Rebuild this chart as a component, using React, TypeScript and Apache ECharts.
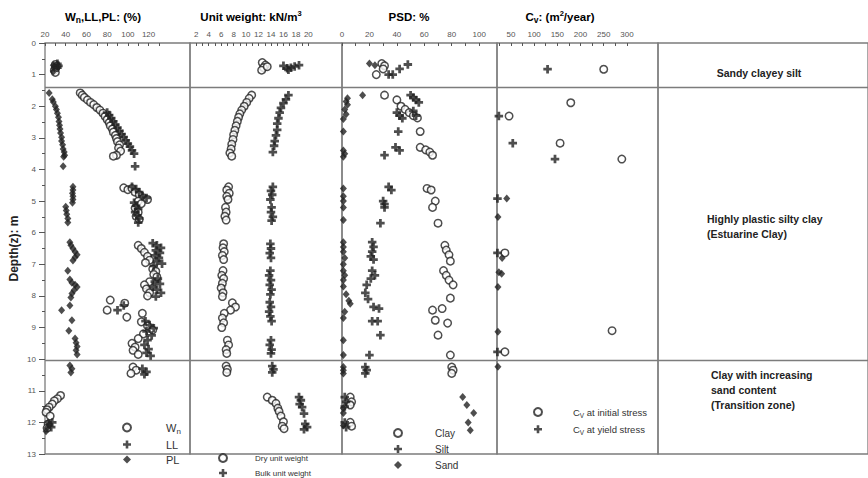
import { useEffect, useRef } from 'react';
import * as echarts from 'echarts';

type P = [number, number];

// ---- data: [value, depth (m)] ----
const wnData: P[] = [
  [30, 0.68], [31, 0.74], [30, 0.8], [29, 0.86], [30, 0.93],
  [54, 1.58], [56, 1.65], [58, 1.72], [61, 1.8], [64, 1.88], [67, 1.95], [70, 2.04], [73, 2.12], [76, 2.22],
  [78, 2.32], [80, 2.42], [82, 2.52], [83, 2.62], [85, 2.72], [86, 2.82], [88, 2.92], [89, 3.02], [90, 3.12],
  [92, 3.22], [91, 3.32], [93, 3.42], [89, 3.55], [86, 3.58],
  [96, 4.58], [100, 4.64], [104, 4.6], [107, 4.72], [111, 4.8], [115, 4.9], [119, 4.95], [110, 5.0], [113, 5.08],
  [107, 5.22], [110, 5.35], [108, 5.48], [111, 5.58],
  [110, 6.4], [113, 6.5], [116, 6.62], [119, 6.75], [121, 6.87], [117, 6.95], [124, 7.15], [127, 7.22], [125, 7.32],
  [128, 7.4], [121, 7.55], [116, 7.65], [118, 7.78], [121, 7.9], [119, 8.0],
  [83, 8.13], [80, 8.45], [97, 8.23], [99, 8.67], [114, 8.55],
  [113, 8.82], [119, 8.95], [124, 9.08], [115, 9.2], [110, 9.35], [104, 9.5], [107, 9.62], [105, 9.72], [110, 9.85],
  [105, 10.25], [108, 10.35], [103, 10.45],
  [35, 11.15], [32, 11.25], [29, 11.32], [27, 11.42], [24, 11.52], [22, 11.6], [21, 11.68], [25, 11.8], [23, 12.05], [22, 12.18],
];
const llData: P[] = [
  [32, 0.66], [33, 0.72], [32, 0.78],
  [80, 2.2], [82, 2.28], [84, 2.38], [86, 2.48], [88, 2.58], [90, 2.68], [92, 2.78], [94, 2.88], [96, 2.98], [98, 3.08],
  [100, 3.18], [102, 3.28], [104, 3.4], [106, 3.5], [107, 3.9],
  [104, 4.55], [108, 4.62], [111, 4.72], [114, 4.85], [118, 4.9], [106, 5.05], [108, 5.15], [110, 5.25], [107, 5.35],
  [109, 5.45], [111, 5.55], [110, 5.68],
  [124, 6.33], [128, 6.4], [132, 6.48], [127, 6.56], [131, 6.64], [126, 6.72], [130, 6.8], [128, 6.9], [133, 6.98],
  [125, 7.05], [129, 7.45], [126, 7.55], [131, 7.62], [124, 7.72], [128, 7.8], [132, 7.9], [127, 8.02],
  [90, 8.45], [96, 8.3],
  [117, 8.8], [121, 8.92], [125, 9.02], [118, 9.12], [123, 9.25], [119, 9.4], [116, 9.55], [120, 9.68], [118, 9.8], [122, 9.9],
  [114, 10.3], [118, 10.4], [116, 10.48], [27, 12.0], [26, 12.15],
];
const plData: P[] = [
  [28, 0.7], [29, 0.8], [28, 0.9],
  [24, 1.58], [27, 1.78], [28, 1.87], [30, 2.0], [31, 2.1], [32, 2.22], [33, 2.35], [33.5, 2.48], [34, 2.6], [34.5, 2.72],
  [35, 2.85], [36, 2.98], [36, 3.1], [37, 3.22], [37.5, 3.35], [38.5, 3.45], [39, 3.55], [38, 3.6], [37.5, 3.9],
  [47, 4.55], [47, 4.65], [46.5, 4.75], [47, 4.85], [47, 4.95], [46.5, 5.05], [40, 5.18], [40.5, 5.3], [41, 5.42], [42, 5.55], [42, 5.68],
  [44, 6.3], [45, 6.4], [47, 6.5], [49, 6.6], [51, 6.7], [49, 6.78], [47, 6.88], [42, 7.2], [44, 7.48], [46, 7.58],
  [49, 7.65], [51, 7.72], [48, 7.82], [46, 7.92], [45, 8.05],
  [44, 8.3], [36, 8.45], [46, 8.77], [43, 9.1], [49, 9.35], [50, 9.48], [51, 9.6], [50, 9.72], [51, 9.85],
  [44, 10.2], [46, 10.3], [45, 10.42], [23, 12.0], [24, 12.08], [22, 12.18], [21, 12.28],
];
const dryData: P[] = [
  [12.6, 0.62], [13.1, 0.7], [12.8, 0.78], [12.5, 0.86], [13.4, 0.75],
  [10.9, 1.65], [10.5, 1.75], [10.1, 1.88], [9.7, 2.0], [9.3, 2.12], [9.0, 2.24], [8.8, 2.35], [8.6, 2.48], [8.4, 2.62],
  [8.2, 2.76], [8.0, 2.9], [7.9, 3.05], [7.7, 3.2], [7.6, 3.35], [7.4, 3.48], [7.7, 3.58],
  [7.2, 4.55], [6.9, 4.65], [7.3, 4.75], [6.9, 4.85], [7.1, 4.95], [6.7, 5.2], [6.8, 5.35], [6.6, 5.48], [6.8, 5.6],
  [6.4, 6.35], [6.3, 6.48], [6.5, 6.6], [6.2, 6.72], [6.4, 6.85], [6.3, 7.2], [6.1, 7.35], [6.4, 7.45], [6.2, 7.6],
  [6.0, 7.75], [6.3, 7.9], [6.2, 8.02], [7.8, 8.22], [8.3, 8.35], [7.5, 8.45], [6.5, 8.55], [6.2, 8.7], [6.4, 8.85],
  [6.1, 9.0], [7.0, 9.4], [7.2, 9.55], [6.8, 9.7], [6.9, 9.82],
  [6.8, 10.22], [7.0, 10.32], [6.9, 10.42],
  [13.4, 11.2], [14.2, 11.3], [14.8, 11.4], [15.1, 11.55], [15.3, 11.65], [15.6, 11.8], [16.0, 11.98], [15.8, 12.12], [16.1, 12.2],
];
const bulkData: P[] = [
  [16.0, 0.72], [16.6, 0.8], [17.2, 0.78], [17.8, 0.74], [18.5, 0.7], [16.8, 0.85],
  [16.8, 1.65], [16.4, 1.78], [16.0, 1.9], [15.6, 2.05], [15.4, 2.2], [15.2, 2.38], [15.0, 2.55], [15.0, 2.75],
  [14.8, 2.92], [14.6, 3.1], [14.5, 3.25], [14.3, 3.45],
  [14.3, 4.55], [14.0, 4.68], [14.2, 4.8], [13.9, 4.95], [14.1, 5.2], [14.0, 5.35], [14.3, 5.5], [14.1, 5.62],
  [13.9, 6.35], [14.0, 6.5], [13.8, 6.65], [14.0, 6.8], [13.9, 7.2], [13.7, 7.35], [14.0, 7.5], [13.8, 7.65],
  [14.1, 7.8], [13.9, 7.95], [13.8, 8.2], [14.0, 8.35], [13.7, 8.5], [13.9, 8.65], [14.1, 8.8], [14.0, 9.4],
  [13.8, 9.55], [14.1, 9.7], [14.0, 9.82],
  [14.2, 10.22], [14.4, 10.32], [14.2, 10.42],
  [18.5, 11.2], [18.8, 11.3], [18.6, 11.42], [19.0, 11.52], [19.3, 11.72], [19.5, 12.05], [19.8, 12.15], [19.3, 12.22],
];
const clayData: P[] = [
  [29, 0.65], [31, 0.72], [25, 1.0], [30, 0.82],
  [31, 1.65], [40, 1.8], [43, 2.0], [46, 2.1], [49, 2.2], [52, 2.3], [55, 2.37], [57, 2.8], [57, 3.3], [61, 3.38],
  [64, 3.45], [66, 3.55], [62, 4.6], [65, 4.65], [68, 5.0], [66, 5.2], [70, 5.7], [75, 6.4], [76, 6.55], [78, 6.7],
  [79, 6.9], [74, 7.2], [76, 7.35], [78, 7.5], [81, 7.65], [79, 8.07], [66, 8.45], [73, 8.4], [68, 8.77], [77, 8.86],
  [70, 9.24], [79, 9.87],
  [80, 10.25], [81, 10.35], [80, 10.45], [6, 11.2], [7, 11.35], [6, 11.45], [6, 12.0], [7, 12.12],
];
const siltData: P[] = [
  [34, 1.0], [37, 1.0], [42, 0.82], [48, 0.68],
  [50, 1.65], [52, 1.72], [54, 1.8], [56, 1.88], [40, 2.2], [42, 2.3], [44, 2.38], [52, 2.15], [54, 2.3], [41, 2.8],
  [39, 3.3], [42, 3.4], [31, 3.55], [34, 4.55], [36, 4.65], [30, 5.0], [31, 5.1], [31, 5.2], [28, 5.7], [22, 6.3],
  [23, 6.45], [22, 6.6], [21, 6.75], [23, 6.85], [22, 7.2], [24, 7.35], [21, 7.45], [18, 7.65], [17, 7.9], [19, 8.1],
  [23, 8.35], [27, 8.4], [22, 8.8], [26, 8.8], [28, 9.24], [20, 9.87],
  [17, 10.25], [18, 10.35], [17, 10.45], [2, 11.2], [3, 11.35], [2, 11.5], [2, 12.0], [3, 12.15],
];
const sandData: P[] = [
  [20, 0.65], [24, 0.7],
  [15, 1.65], [4, 1.75], [3, 1.85], [4, 1.95], [2, 2.1], [3, 2.25], [1, 2.4], [1, 2.8], [1, 3.4], [2, 3.5], [1, 3.6],
  [1, 4.6], [1, 4.85], [1, 5.0], [1, 5.2], [1, 5.6], [1, 6.3], [1, 6.45], [1, 6.6], [2, 6.8], [1, 7.0], [1, 7.2],
  [2, 7.35], [1, 7.5], [1, 7.7], [3, 7.95], [5, 8.15], [6, 8.25], [2, 8.5], [1, 8.7], [1, 9.4], [1, 9.87],
  [1, 10.25], [1, 10.35], [1, 10.45], [1, 11.55], [1, 11.7], [1, 12.1],
  [88, 11.2], [91, 11.45], [96, 11.7], [92, 12.0], [93.5, 12.25],
];
const cvInitialData: P[] = [
  [250, 0.83], [179, 1.89], [46, 2.31], [156, 3.17], [289, 3.67], [37, 6.64], [268, 9.1], [37, 9.77],
];
const cvYieldData: P[] = [
  [129, 0.83], [24, 2.31], [54, 3.17], [145, 3.67], [21, 4.92], [21, 6.64], [21, 9.77],
];
const cvOverlapData: P[] = [
  [41, 4.92], [22, 5.5], [31, 6.8], [24, 7.25], [30, 7.3], [22, 7.72], [22, 9.13], [22, 10.24],
];

const layerBoundaries = [1.4, 10.05];

// ---- axis ticks / labels ----
const wnLabels = [20, 40, 60, 80, 100, 120];
const wnTicks = [20, 30, 40, 50, 60, 70, 80, 90, 100, 110, 120, 130];
const uwLabels = [2, 4, 6, 8, 10, 12, 14, 16, 18, 20];
const uwTicks = [2, 3, 4, 5, 6, 7, 8, 9, 10, 11, 12, 13, 14, 15, 16, 17, 18, 19, 20];
const psdLabels = [0, 20, 40, 60, 80, 100];
const psdTicks = [0, 10, 20, 30, 40, 50, 60, 70, 80, 90, 100];
const cvLabels = [50, 100, 150, 200, 250, 300];
const cvTicks = [25, 50, 75, 100, 125, 150, 175, 200, 225, 250, 275, 300];

const FONT = '"Liberation Sans", Arial, sans-serif';
const INK = '#222';
const LINE = '#7c7c7c';
const PLUS = 'path://M-1.3,-4H1.3V-1.3H4V1.3H1.3V4H-1.3V1.3H-4V-1.3H-1.3Z';

const circleStyle = { symbol: 'circle', symbolSize: 7.5, itemStyle: { color: '#fff', borderColor: INK, borderWidth: 1.5 } };
const plusStyle = { symbol: PLUS, symbolSize: 8.5, itemStyle: { color: INK } };
const diamondStyle = { symbol: 'diamond', symbolSize: [7, 8], itemStyle: { color: INK } };

const boundaryLine = {
  silent: true,
  symbol: ['none', 'none'],
  label: { show: false },
  lineStyle: { color: LINE, width: 1.3, type: 'solid' },
  data: layerBoundaries.map((d) => ({ yAxis: d })),
};

export default function App() {
  const ref = useRef<HTMLDivElement>(null);
  useEffect(() => {
    document.body.style.margin = '0';
    const chart = echarts.init(ref.current!, null, { renderer: 'svg' });

    const gridDefs = [
      { left: 45, width: 145 },
      { left: 190, width: 152 },
      { left: 342, width: 155 },
      { left: 497, width: 161 },
      { left: 658, width: 230 },
    ];
    const grid = gridDefs.map((g) => ({
      ...g, top: 43, height: 411, show: true, borderColor: LINE, borderWidth: 1.3, backgroundColor: 'transparent',
    }));

    const xRanges = [
      { min: 20, max: 160, labels: wnLabels, ticks: wnTicks },
      { min: 1, max: 25.4, labels: uwLabels, ticks: uwTicks },
      { min: 0, max: 113, labels: psdLabels, ticks: psdTicks },
      { min: 20, max: 367, labels: cvLabels, ticks: cvTicks },
    ];
    const xAxis: any[] = xRanges.map((r, i) => ({
      type: 'value', gridIndex: i, position: 'top', min: r.min, max: r.max,
      axisLine: { show: false },
      splitLine: { show: false },
      axisTick: { show: true, inside: true, length: 3, customValues: r.ticks, lineStyle: { color: '#555', width: 1 } },
      axisLabel: { customValues: r.labels, fontSize: 8, color: '#555', margin: 5, fontFamily: FONT },
    }));
    xAxis.push({ type: 'value', gridIndex: 4, min: 0, max: 1, show: false });

    const yAxis: any[] = [0, 1, 2, 3, 4].map((i) => ({
      type: 'value', gridIndex: i, inverse: true, min: 0, max: 13, interval: 1,
      show: i === 0,
      axisLine: { show: false },
      splitLine: { show: false },
      axisTick: { show: true, length: 6, lineStyle: { color: '#555' } },
      minorTick: { show: true, splitNumber: 2, length: 3, lineStyle: { color: '#555' } },
      axisLabel: { fontSize: 8, color: '#555', margin: 9, fontFamily: FONT },
      name: i === 0 ? 'Depth(z): m' : '',
      nameLocation: 'middle', nameGap: 25,
      nameTextStyle: { fontSize: 12, fontWeight: 'bold', color: INK, fontFamily: FONT },
    }));

    const sc = (name: string, data: P[], gi: number, style: any, withLine = false) => ({
      type: 'scatter', name, data, xAxisIndex: gi, yAxisIndex: gi, ...style,
      ...(withLine ? { markLine: boundaryLine } : {}),
    });

    const series: any[] = [
      sc('Wn', wnData, 0, circleStyle, true),
      sc('LL', llData, 0, plusStyle),
      sc('PL', plData, 0, diamondStyle),
      sc('Dry unit weight', dryData, 1, circleStyle, true),
      sc('Bulk unit weight', bulkData, 1, plusStyle),
      sc('Clay', clayData, 2, circleStyle, true),
      sc('Silt', siltData, 2, plusStyle),
      sc('Sand', sandData, 2, diamondStyle),
      sc('Cv at initial stress', cvInitialData, 3, circleStyle, true),
      sc('Cv at yield stress', cvYieldData, 3, plusStyle),
      sc('Cv (overlapping)', cvOverlapData, 3, diamondStyle),
      { type: 'scatter', name: 'layers', data: [], xAxisIndex: 4, yAxisIndex: 4, markLine: boundaryLine },
    ];

    const subRich = (size: number, weight = 'normal', color = INK) => ({
      b: { fontSize: size, fontWeight: weight, color, fontFamily: FONT, lineHeight: size + 4 },
      s: { fontSize: size - 3, fontWeight: weight, color, fontFamily: FONT, lineHeight: size + 4, verticalAlign: 'bottom' },
      u: { fontSize: size - 4, fontWeight: weight, color, fontFamily: FONT, lineHeight: size + 4, verticalAlign: 'top' },
    });

    const legendBase = {
      orient: 'vertical', itemWidth: 8, itemHeight: 8, selectedMode: false, padding: 0,
    };

    const legend: any[] = [
      {
        ...legendBase, data: ['Wn', 'LL', 'PL'], left: 122, top: 422, itemGap: 4,
        formatter: (n: string) => (n === 'Wn' ? '{b|W}{s|n}' : `{b|${n}}`),
        textStyle: { padding: [0, 0, 0, 30], rich: subRich(11, 'normal', '#333') },
      },
      {
        ...legendBase, data: ['Dry unit weight', 'Bulk unit weight'], left: 218, top: 453, itemGap: 5,
        textStyle: { fontSize: 8, color: '#333', fontFamily: FONT, lineHeight: 10, padding: [0, 0, 0, 23] },
      },
      {
        ...legendBase, data: ['Clay', 'Silt', 'Sand'], left: 393, top: 427, itemGap: 4,
        textStyle: { fontSize: 10, color: '#333', fontFamily: FONT, lineHeight: 12, padding: [0, 0, 0, 28] },
      },
      {
        ...legendBase, data: ['Cv at initial stress', 'Cv at yield stress'], left: 533, top: 407, itemGap: 5.5,
        formatter: (n: string) => `{b|C}{s|V}{b|${n.slice(2)}}`,
        textStyle: { padding: [0, 0, 0, 26], rich: subRich(9.5, 'normal', '#333') },
      },
    ];

    const titleRich = subRich(11.5, 'bold');
    const title = (x: number, text: string) => ({
      type: 'text', x, y: 17,
      style: { text, align: 'center', verticalAlign: 'middle', rich: titleRich },
    });
    const note = (x: number, y: number, text: string, align = 'left') => ({
      type: 'text', x, y,
      style: { text, align, verticalAlign: 'top', fontSize: 10.5, fontWeight: 'bold', lineHeight: 15, fill: INK, fontFamily: FONT },
    });

    const graphic = [
      title(103, '{b|W}{s|n}{b|,LL,PL: (%)}'),
      title(251, '{b|Unit weight: kN/m}{u|3}'),
      title(409, '{b|PSD: %}'),
      title(560, '{b|C}{s|v}{b|: (m}{u|2}{b|/year)}'),
      note(759, 65, 'Sandy clayey silt', 'center'),
      note(707, 211, 'Highly plastic silty clay\n(Estuarine Clay)'),
      note(711, 367, 'Clay with increasing\nsand content\n(Transition zone)'),
    ];

    chart.setOption({
      animation: false,
      backgroundColor: '#fff',
      textStyle: { fontFamily: FONT },
      grid, xAxis, yAxis, series, legend, graphic,
    });
    return () => chart.dispose();
  }, []);
  return <div ref={ref} style={{ width: 868, height: 478 }} />;
}
